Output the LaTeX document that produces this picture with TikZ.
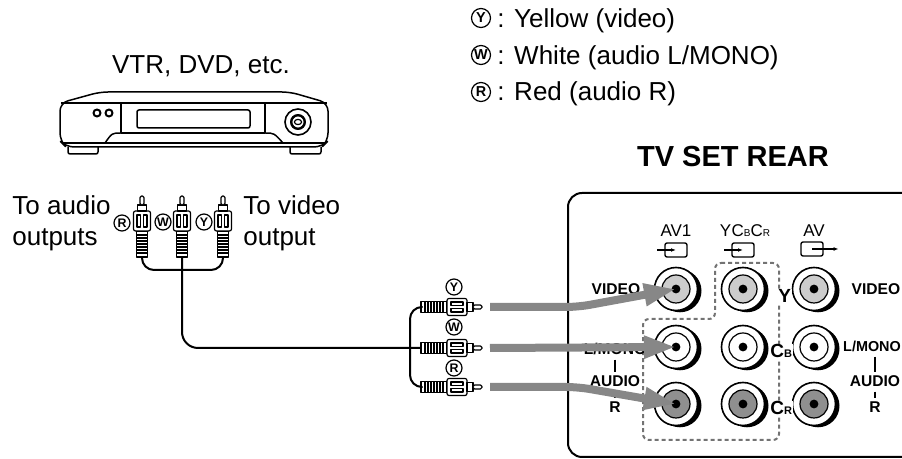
\documentclass[tikz,border=0pt]{standalone}
\usepackage{fontspec}
\setmainfont{Liberation Sans}
\usepackage{tikz}
\usetikzlibrary{positioning,calc,arrows.meta}
\definecolor{arrowgray}{rgb}{0.53,0.53,0.53}
\definecolor{jacklight}{rgb}{0.80,0.80,0.80}
\definecolor{jackdark}{rgb}{0.56,0.56,0.56}
\definecolor{dashgray}{rgb}{0.45,0.45,0.45}

\tikzset{
  maintext/.style={font=\fontsize{13}{15}\selectfont, inner sep=0pt},
  colortag/.style={circle, draw, line width=0.6pt, inner sep=0pt, minimum size=8pt, font=\fontsize{6.2}{6.2}\selectfont\bfseries},
  bigtag/.style={colortag, minimum size=9.5pt, font=\fontsize{7.2}{7.2}\selectfont\bfseries},
  cable/.style={line width=1pt},
  sigarrow/.style={line width=4pt, arrowgray, -{Triangle[length=16pt,width=10.5pt]}},
  jack/.style={circle, draw, line width=0.8pt, fill=white, minimum size=21.5pt, inner sep=0pt,
    preaction={fill=black, transform canvas={xshift=2pt, yshift=-0.9pt}},
    path picture={\draw[black, line width=0.6pt, fill=#1] (path picture bounding box.center) circle[radius=7pt];
      \fill[black] (path picture bounding box.center) circle[radius=2.2pt];}},
  portlabel/.style={font=\fontsize{7.8}{8}\selectfont\bfseries, inner sep=0.5pt},
  chanlabel/.style={font=\fontsize{9.5}{10}\selectfont\bfseries, inner sep=0.5pt, fill=white},
  toplabel/.style={font=\fontsize{8.5}{9}\selectfont, inner sep=0pt},
  iobox/.style={draw, line width=0.7pt, rounded corners=1pt, minimum width=11pt, minimum height=7pt, inner sep=0pt},
  ioarrow/.style={line width=0.6pt, -{Latex[length=2.5pt]}},
  bar/.style={line width=1.3pt, shorten <=1.5pt, shorten >=1.5pt},
  panel/.style={line width=1pt, rounded corners=7pt},
  groupbox/.style={dashgray, line width=1pt, dash pattern=on 2pt off 1.5pt, rounded corners=3pt},
  dvd/.style={line width=0.75pt}
}

% RCA plug: x, y, angle, name (back end of grip)
\newcommand{\rcaplug}[4]{%
  \begin{scope}[shift={(#1,#2)},rotate=#3,line width=0.6pt]
    \coordinate (#4) at (0,0);
    \coordinate (#4tip) at (61,0);
    \draw[fill=white] (0,-5.5) rectangle (26,5.5);
    \foreach \r in {4,7,...,23} \draw (\r,-5.5) -- (\r,5.5);
    \draw[fill=white,rounded corners=1pt] (26,-8.5) rectangle (46,8.5);
    \draw (30,-5) rectangle (42,-1.5) (30,1.5) rectangle (42,5);
    \draw[fill=white] (46,-4.5) rectangle (52,4.5);
    \draw[fill=white,rounded corners=0.8pt] (52,-2) rectangle (61,2);
  \end{scope}}

\begin{document}
\begin{tikzpicture}[x=0.5pt,y=-0.5pt,line join=round]

	\clip (0,0) rectangle (902,459);

	% legend
	\node[bigtag] (legtagy) at (481,18) {Y};
	\node[maintext,anchor=base west] (legy) at (497,28) {: Yellow (video)};
	\node[bigtag] (legtagw) at (481,55) {W};
	\node[maintext,anchor=base west] (legw) at (497,65) {: White (audio L/MONO)};
	\node[bigtag] (legtagr) at (481,92) {R};
	\node[maintext,anchor=base west] (legr) at (497,101) {: Red (audio R)};

	% player
	\node[maintext,anchor=base] (source) at (201,74) {VTR, DVD, etc.};
	\draw[dvd,rounded corners=4pt] (66,147) -- (60,141) -- (60,103) -- (100,92) -- (290,92) -- (328,103) -- (328,141) -- (322,147) -- cycle;
	\draw[dvd] (61,103) -- (327,103);
	\draw[dvd] (121,103) -- (121,133) -- (265,133) -- (265,103);
	\draw[dvd] (121,133) .. controls (112,133) .. (105,143);
	\draw[dvd] (265,133) .. controls (274,133) .. (283,143);
	\draw[dvd] (62,143) -- (326,143);
	\draw[dvd,rounded corners=1pt] (68,147) -- (68,154) -- (98,154) -- (98,147);
	\draw[dvd,rounded corners=1pt] (290,147) -- (290,154) -- (321,154) -- (321,147);
	\draw[dvd,rounded corners=1pt] (137,110) rectangle (250,128);
	\draw[line width=1pt] (97,113) circle[radius=1.75pt] (109,113) circle[radius=1.75pt];
	\draw[line width=0.8pt] (298,122) circle[radius=6.5pt];
	\draw[line width=1.2pt] (298,122) circle[radius=3.4pt];
	\draw[line width=0.6pt] (298,122) ellipse[x radius=1.8pt,y radius=1.3pt];

	% cable at the player
	\node[maintext,anchor=base west] (toaudio) at (12,215) {To audio};
	\node[maintext,anchor=base west] (audioout) at (12,246) {outputs};
	\node[maintext,anchor=base west] (tovideo) at (243,215) {To video};
	\node[maintext,anchor=base west] (videoout) at (243,246) {output};
	\rcaplug{142}{257}{90}{topr}
	\rcaplug{182}{257}{90}{topw}
	\rcaplug{223}{257}{90}{topy}
	\node[colortag] (tagtopr) at (122,223) {R};
	\node[colortag] (tagtopw) at (163,222) {W};
	\node[colortag] (tagtopy) at (204,222) {Y};

	% cable at the TV
	\rcaplug{421}{307}{0}{ry}
	\rcaplug{421}{348}{0}{rw}
	\rcaplug{421}{387}{0}{rr}
	\node[colortag] (tagry) at (454,287) {Y};
	\node[colortag] (tagrw) at (454,327) {W};
	\node[colortag] (tagrr) at (454,368) {R};

	\draw[cable,rounded corners=6pt] (topr) -- ++(0,13) -| (topy);
	\draw[cable,rounded corners=8pt] (topw) |- (rw);
	\draw[cable,rounded corners=6pt] (ry) -- ++(-11,0) |- (rr);

	% TV rear panel
	\node[font=\fontsize{14.5}{16}\selectfont\bfseries,anchor=base] (tvrear) at (733,167) {TV SET REAR};
	\draw[panel] (568,457) rectangle (940,193);
	\draw[groupbox] (715,263) -- (779,263) -- (779,440) -- (643,440) -- (643,319) -- (715,319) -- cycle;

	\node[toplabel,anchor=base] (av1) at (676,237) {AV1};
	\node[toplabel,anchor=base] (ycbcr) at (745,237) {Y\kern0.2pt C{\fontsize{5}{5}\selectfont B}C{\fontsize{5}{5}\selectfont R}};
	\node[toplabel,anchor=base] (avout) at (814,237) {AV};
	\node[iobox] (av1in) at (676,250) {};
	\node[iobox] (ycbcrin) at (743,250) {};
	\node[iobox] (avoutbox) at (812,249) {};
	\draw[ioarrow] ([xshift=-3.5pt]av1in.west) -- (av1in.center);
	\draw[ioarrow] ([xshift=-3.5pt]ycbcrin.west) -- (ycbcrin.center);
	\draw[ioarrow] (avoutbox.center) -- ([xshift=7.5pt]avoutbox.east);

	\node[jack=jacklight] (av1video) at (676,289) {};
	\node[jack=white] (av1mono) at (676,347) {};
	\node[jack=jackdark] (av1r) at (676,404) {};
	\node[jack=jacklight] (yjack) at (743,289) {};
	\node[jack=white] (cbjack) at (743,347) {};
	\node[jack=jackdark] (crjack) at (743,404) {};
	\node[jack=jacklight] (avvideo) at (814,289) {};
	\node[jack=white] (avmono) at (814,347) {};
	\node[jack=jackdark] (avr) at (814,404) {};

	\node[chanlabel,anchor=base west] (ylab) at (777,303) {Y};
	\node[chanlabel,anchor=base west] (cblab) at (769,358) {C{\fontsize{5.5}{5.5}\selectfont B}};
	\node[chanlabel,anchor=base west] (crlab) at (769,415) {C{\fontsize{5.5}{5.5}\selectfont R}};

	\node[portlabel,anchor=base] (lvideo) at (616,295) {VIDEO};
	\node[portlabel,anchor=base] (lmono) at (615,355) {L/MONO};
	\node[portlabel,anchor=base] (laudio) at (615,387) {AUDIO};
	\node[portlabel,anchor=base] (lr) at (615,413) {R};
	\draw[bar] (lmono.south) -- (laudio.north);
	\draw[bar] (laudio.south) -- (lr.north);

	\node[portlabel,anchor=base] (rvideo) at (876,295) {VIDEO};
	\node[portlabel,anchor=base,font=\fontsize{7.2}{8}\selectfont\bfseries] (rmono) at (872,352) {L/MONO};
	\node[portlabel,anchor=base] (raudio) at (875,387) {AUDIO};
	\node[portlabel,anchor=base] (rr) at (875,413) {R};
	\draw[bar] ([xshift=1.5pt]rmono.south) -- (raudio.north);
	\draw[bar] (raudio.south) -- (rr.north);

	% signal arrows
	\draw[sigarrow,rounded corners=6pt] ([xshift=4pt]rytip) -- ++(88,0) -- (av1video.center);
	\draw[sigarrow] ([xshift=4pt]rwtip) -- (av1mono.center);
	\draw[sigarrow,rounded corners=6pt] ([xshift=4pt]rrtip) -- ++(88,0) -- (av1r.center);

\end{tikzpicture}
\end{document}
